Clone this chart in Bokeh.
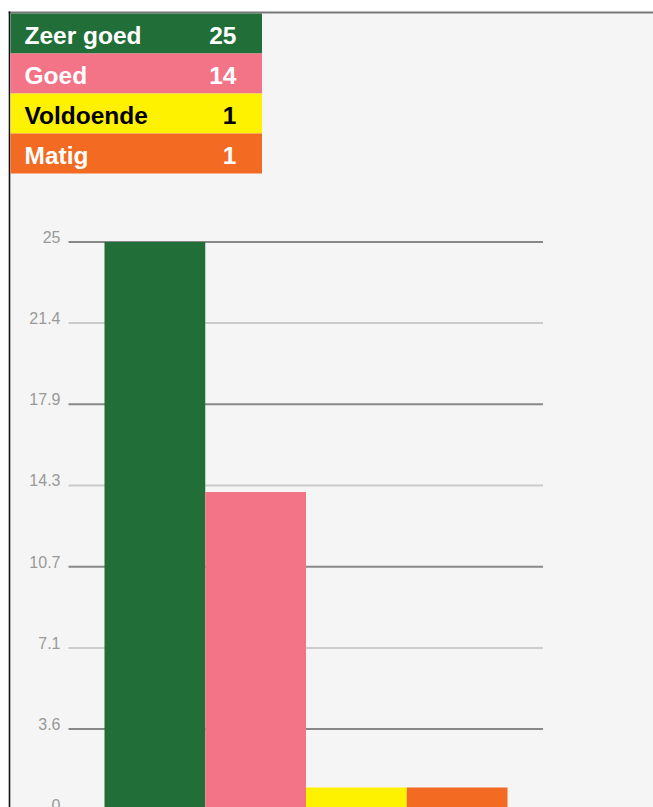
from bokeh.plotting import figure
from bokeh.models import Range1d, ColumnDataSource
from bokeh.embed import file_html
from bokeh.resources import INLINE
from bokeh.core.properties import value

# ---- data ----
categories = ["Zeer goed", "Goed", "Voldoende", "Matig"]
counts = [25, 14, 1, 1]
bar_colors = ["#216e39", "#f37387", "#fff200", "#f36a22"]
label_colors = ["white", "white", "black", "white"]
tick_values = [0, 3.57, 7.14, 10.71, 14.29, 17.86, 21.43, 25]
tick_labels = ["0", "3.6", "7.1", "10.7", "14.3", "17.9", "21.4", "25"]
grid_colors = ["#cccccc", "#888888", "#cccccc", "#888888",
               "#cccccc", "#888888", "#cccccc", "#888888"]

# ---- layout ----
W, H = 653, 807
PX_PER_UNIT = 22.73
ZERO_PX = 809.7          # pixel row of value 0
y_top = ZERO_PX / PX_PER_UNIT
y_bot = (ZERO_PX - H) / PX_PER_UNIT
LABEL_LIFT = 5.2 / PX_PER_UNIT

p = figure(width=W, height=H, x_range=Range1d(0, W), y_range=Range1d(y_bot, y_top),
           output_backend="svg", toolbar_location=None, min_border=0,
           x_axis_type=None, y_axis_type=None,
           background_fill_color="white", border_fill_color="white",
           outline_line_color=None)
p.grid.visible = False
p.extra_y_ranges = {"px": Range1d(start=H, end=0)}

# background panel and borders
p.quad(left=10, right=W, top=13, bottom=H, y_range_name="px",
       fill_color="#f5f5f5", line_color=None)
p.segment(x0=8, x1=W, y0=12, y1=12, y_range_name="px",
          line_color="#777777", line_width=2)
p.segment(x0=9, x1=9, y0=11, y1=H, y_range_name="px",
          line_color="#111111", line_width=1.6)

# gridlines and tick labels
gsrc = ColumnDataSource(dict(y=tick_values, ly=[v + LABEL_LIFT for v in tick_values],
                             c=grid_colors, t=tick_labels))
p.segment(x0=68, x1=542.5, y0="y", y1="y", line_color="c", line_width=2, source=gsrc)
p.text(x=60, y="ly", text="t", source=gsrc, text_align="right",
       text_baseline="middle", text_color="#999999",
       text_font=value("Liberation Sans"), text_font_size="16px")

# bars
bar_w = 100.75
xs = [104 + bar_w / 2 + i * bar_w for i in range(len(categories))]
bsrc = ColumnDataSource(dict(x=xs, top=counts, c=bar_colors))
p.vbar(x="x", top="top", bottom=0, width=bar_w, fill_color="c", line_color=None, source=bsrc)

# legend table
row_h = 40
tops = [13 + i * row_h for i in range(len(categories))]
tsrc = ColumnDataSource(dict(
    top=tops, bottom=[t + row_h for t in tops], c=bar_colors, tc=label_colors,
    name=categories, val=[str(v) for v in counts], mid=[t + 22 for t in tops]))
p.quad(left=10, right=261.5, top="top", bottom="bottom", fill_color="c",
       line_color=None, y_range_name="px", source=tsrc)
p.text(x=24, y="mid", text="name", text_color="tc", source=tsrc, y_range_name="px",
       text_align="left", text_baseline="middle",
       text_font=value("Liberation Sans"), text_font_style="bold", text_font_size="24.5px")
p.text(x=236, y="mid", text="val", text_color="tc", source=tsrc, y_range_name="px",
       text_align="right", text_baseline="middle",
       text_font=value("Liberation Sans"), text_font_style="bold", text_font_size="24.5px")

open("out.html", "w").write(file_html(p, INLINE))
